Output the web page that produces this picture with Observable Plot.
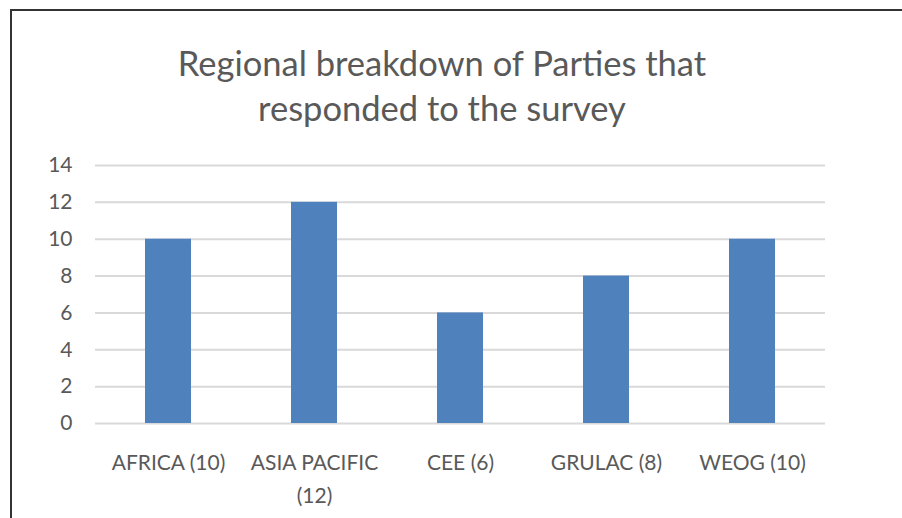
<!DOCTYPE html>
<html>
<head>
<meta charset="utf-8">
<script src="https://cdn.jsdelivr.net/npm/d3@7"></script>
<script src="https://cdn.jsdelivr.net/npm/@observablehq/plot@0.6"></script>
<style>
  html, body { margin: 0; padding: 0; background: #fff; }
  #frame {
    position: absolute; left: 10px; top: 9px; width: 892px; height: 509px;
    border-top: 2px solid #333; border-left: 2px solid #333; box-sizing: border-box;
  }
  #title {
    position: absolute; left: 0; top: 0; width: 860px; height: 133px;
    box-sizing: border-box; padding-top: 29px;
    text-align: center; font-family: Lato, sans-serif; font-size: 34.5px; line-height: 45px; color: #595959;
  }
  #chart { position: absolute; left: 0; top: 133px; }
</style>
</head>
<body>
<div id="frame">
  <div id="title">Regional breakdown of Parties that<br>responded to the survey</div>
  <div id="chart"></div>
</div>
<script>
const regions = ["AFRICA (10)", "ASIA PACIFIC\n(12)", "CEE (6)", "GRULAC (8)", "WEOG (10)"];
const counts = [10, 12, 6, 8, 10];
const yTicks = [0, 2, 4, 6, 8, 10, 12, 14];

const data = regions.map((r, i) => ({region: r, count: counts[i]}));

const plot = Plot.plot({
  width: 890,
  height: 376,
  marginLeft: 83,
  marginRight: 77,
  marginTop: 21,
  marginBottom: 97,
  style: {fontFamily: "Lato, sans-serif", fontSize: "21px", color: "#595959", background: "transparent"},
  x: {domain: regions, paddingInner: 0.685, paddingOuter: 0.3425, label: null},
  y: {domain: [0, 14], ticks: yTicks, label: null},
  marks: [
    Plot.gridY(yTicks, {stroke: "#d9d9d9", strokeOpacity: 1, strokeWidth: 2}),
    Plot.barY(data, {x: "region", y: "count", fill: "#4f81bd"}),
    Plot.axisY(yTicks, {tickSize: 0, tickPadding: 23, fill: "#595959", fontSize: 21}),
    Plot.axisX({tickSize: 0, tickPadding: 23, fill: "#595959", fontSize: 21, lineHeight: 1.57})
  ]
});
document.getElementById("chart").appendChild(plot);
</script>
</body>
</html>
